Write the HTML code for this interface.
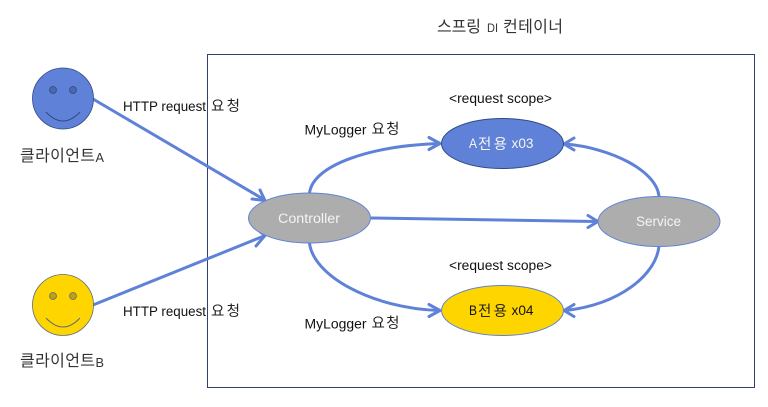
<!DOCTYPE html>
<html><head><meta charset="utf-8"><style>
html,body{margin:0;padding:0;background:#fff}
svg{display:block}
text{font-family:"Liberation Sans","Noto Sans CJK KR",sans-serif;font-size:13.500px;fill:#111}
.k{font-size:14.500px;fill:#222}
.h{font-size:16px;fill:#333}
.w{fill:#f4f4f4}
</style></head><body>
<svg width="768" height="407" viewBox="0 0 768 407" xmlns="http://www.w3.org/2000/svg">
<rect x="207.500" y="54.500" width="547" height="333" fill="#fff" stroke="#2f3f6f" stroke-width="1"/>
<g fill="none" stroke="#5f82d8" stroke-width="3">
<path d="M93 99L264 199.500"/>
<path d="M93 305L264 236"/>
<path d="M309.500 193C313 165 370 146 439 143.500"/>
<path d="M309.500 243C313 275 370 308 439 310.500"/>
<path d="M371 218L596 221.500"/>
<path d="M659 196C656 170 610 148 566 144"/>
<path d="M659 246C656 275 620 304 566 310.500"/>
<g stroke-linecap="round" stroke-linejoin="round">
<path d="M252 199L265 200.500L260 190"/>
<path d="M254 227L265 235.500L256 246"/>
<path d="M429 137.500L440 143.500L429 149.500"/>
<path d="M429 304.500L440 310.500L429 316.500"/>
<path d="M588 215.500L598 221.500L588 227.500"/>
<path d="M574 138L564 144L574 150"/>
<path d="M574 304.500L564 310.500L574 316.500"/>
</g></g>
<g stroke="#2f4a84" stroke-width="0.8"><circle cx="63" cy="98.500" r="30.500" fill="#5f82d8"/><circle cx="53" cy="90" r="3.500" fill="#4c68ad"/><circle cx="73" cy="90" r="3.500" fill="#4c68ad"/>
<path d="M46 112Q63 130 80 112" fill="none" stroke-width="1"/></g>
<g stroke="#5f6b7c" stroke-width="0.8"><circle cx="63" cy="305" r="30.500" fill="#ffd500"/><circle cx="53" cy="296" r="3.500" fill="#c09f10"/><circle cx="73" cy="296" r="3.500" fill="#c09f10"/>
<path d="M46 318Q63 336 80 318" fill="none" stroke-width="1"/></g>
<ellipse cx="309.500" cy="218" rx="61" ry="25" fill="#adadad" stroke="#5f82d8"/>
<ellipse cx="659" cy="221.500" rx="61" ry="25" fill="#adadad" stroke="#5f82d8"/>
<ellipse cx="502.500" cy="143.500" rx="61" ry="25" fill="#5f82d8" stroke="#2f4a84"/>
<ellipse cx="502.500" cy="310.500" rx="61" ry="25" fill="#ffd500" stroke="#5f82d8"/>
<text class="h" x="437" y="32" textLength="44">스프링</text>
<text x="487" y="32" textLength="11" lengthAdjust="spacingAndGlyphs" style="font-size:12px;fill:#333">DI</text>
<text class="h" x="503" y="32" textLength="60">컨테이너</text>
<text x="123" y="111" textLength="83" lengthAdjust="spacingAndGlyphs">HTTP request</text>
<text class="k" x="211" y="111" textLength="29">요청</text>
<text x="123" y="316" textLength="83" lengthAdjust="spacingAndGlyphs">HTTP request</text>
<text class="k" x="211" y="316" textLength="29">요청</text>
<text class="h" x="20" y="161" textLength="75">클라이언트</text>
<text x="95.500" y="162" textLength="8.500" lengthAdjust="spacingAndGlyphs" style="font-size:12.500px;fill:#333">A</text>
<text class="h" x="20" y="366" textLength="75">클라이언트</text>
<text x="95.500" y="367" textLength="8.500" lengthAdjust="spacingAndGlyphs" style="font-size:12.500px;fill:#333">B</text>
<text x="304.500" y="134.500" textLength="62" lengthAdjust="spacingAndGlyphs">MyLogger</text>
<text class="k" x="371.500" y="134" textLength="28">요청</text>
<text x="304.500" y="328.500" textLength="62" lengthAdjust="spacingAndGlyphs">MyLogger</text>
<text class="k" x="371.500" y="328" textLength="28">요청</text>
<text x="449" y="103" textLength="103" lengthAdjust="spacingAndGlyphs">&lt;request scope&gt;</text>
<text x="449" y="270" textLength="103" lengthAdjust="spacingAndGlyphs">&lt;request scope&gt;</text>
<text class="w" x="278" y="223" textLength="62" lengthAdjust="spacingAndGlyphs">Controller</text>
<text class="w" x="636" y="226" textLength="45" lengthAdjust="spacingAndGlyphs">Service</text>
<text class="w" x="469" y="148" textLength="8" lengthAdjust="spacingAndGlyphs">A</text>
<text class="k w" x="478" y="149" textLength="29">전용</text>
<text class="w" x="511.500" y="148" textLength="22" lengthAdjust="spacingAndGlyphs">x03</text>
<text x="469" y="315" textLength="8" lengthAdjust="spacingAndGlyphs">B</text>
<text class="k" x="478" y="316" textLength="29">전용</text>
<text x="511.500" y="315" textLength="22" lengthAdjust="spacingAndGlyphs">x04</text>
</svg>
</body></html>
